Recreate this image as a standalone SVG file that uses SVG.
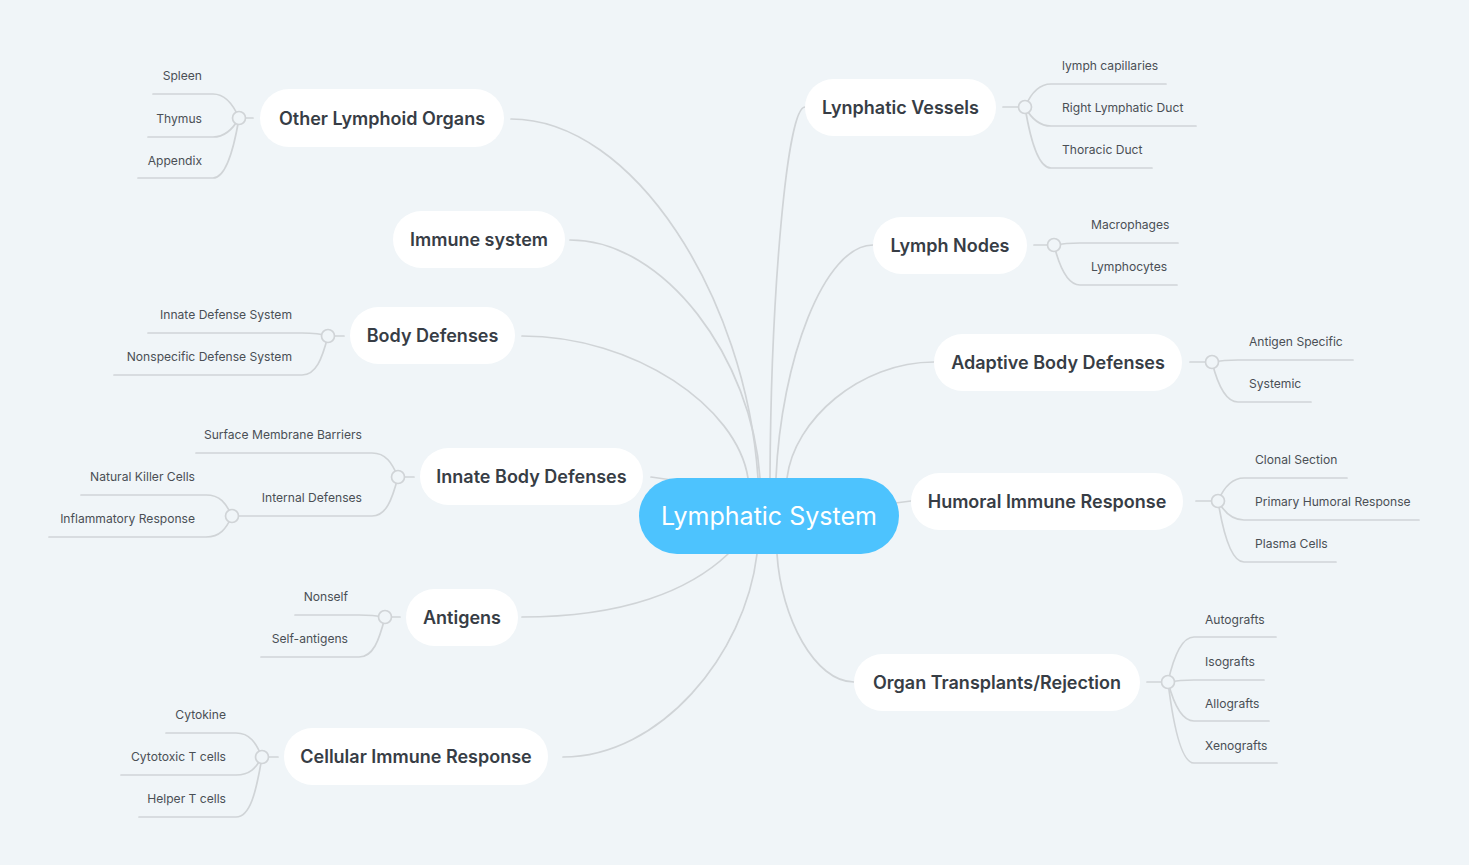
<svg xmlns="http://www.w3.org/2000/svg" width="1469" height="865" viewBox="0 0 1469 865">
<style>
.bg{fill:#F0F5F8}
.ln{fill:none;stroke:#D0D4D7;stroke-width:1.7;stroke-linecap:round}
.jn{fill:#F0F5F8;stroke:#D0D4D7;stroke-width:1.7}
.nd{fill:#FFFFFF}
.nt{font-family:Inter,"Open Sans",sans-serif;font-weight:600;font-size:18px;fill:#373D45;text-anchor:middle}
.lt{font-family:Inter,"Open Sans",sans-serif;font-size:12.1px;fill:#4A4F55}
.ll{text-anchor:end}
.ct{font-family:Inter,"Open Sans",sans-serif;font-size:25px;fill:#FFFFFF;text-anchor:middle}
</style>
<rect class="bg" x="0" y="0" width="1469" height="865"/>
<g id="connectors">
<path class="ln" d="M511 119 C634 119 746 298 758 478"/>
<path class="ln" d="M570 240 C665 240 752 359 760 478"/>
<path class="ln" d="M522 336 C635 336 737 407 748 478"/>
<path class="ln" d="M651 477 L700 484"/>
<path class="ln" d="M522 617 C625 617 690 590 728 554"/>
<path class="ln" d="M563 757 C660 757 745 655 757 554"/>
<path class="ln" d="M805 107 C787 107 771 292 770 478"/>
<path class="ln" d="M873 245 C824 245 781 361 776 478"/>
<path class="ln" d="M934 362 C860 362 794 420 787 478"/>
<path class="ln" d="M911 501 L880 505"/>
<path class="ln" d="M854 682 C815 682 781 618 777 554"/>
<path class="ln" d="M245 118 H253"/>
<path class="ln" d="M334 336 H344"/>
<path class="ln" d="M404 477 H414"/>
<path class="ln" d="M391 617 H400"/>
<path class="ln" d="M268 757 H278"/>
<path class="ln" d="M1003 107 H1019"/>
<path class="ln" d="M1034 245 H1048"/>
<path class="ln" d="M1190 362 H1206"/>
<path class="ln" d="M1196 501 H1212"/>
<path class="ln" d="M1147 682 H1162"/>
<path class="ln" d="M239 118 C233 104 225 94 213 94 H153"/>
<path class="ln" d="M239 118 C233 129 225 137 213 137 H148"/>
<path class="ln" d="M239 118 C233 154 225 178 213 178 H138"/>
<path class="ln" d="M328 336 C322 334 316 333 302 333 H148"/>
<path class="ln" d="M328 336 C322 359 316 375 302 375 H114"/>
<path class="ln" d="M398 477 C392 463 386 453 372 453 H196"/>
<path class="ln" d="M398 477 C392 500 386 516 372 516 H238"/>
<path class="ln" d="M232 516 C226 503 220 495 206 495 H81"/>
<path class="ln" d="M232 516 C226 529 220 537 206 537 H49"/>
<path class="ln" d="M385 617 C379 616 373 615 359 615 H295"/>
<path class="ln" d="M385 617 C379 641 373 657 359 657 H261"/>
<path class="ln" d="M262 757 C256 743 250 733 236 733 H166"/>
<path class="ln" d="M262 757 C256 768 250 775 236 775 H121"/>
<path class="ln" d="M262 757 C256 793 250 817 236 817 H139"/>
<path class="ln" d="M1025 107 C1031 93 1039 84 1051 84 H1166"/>
<path class="ln" d="M1025 107 C1031 118 1039 126 1051 126 H1196"/>
<path class="ln" d="M1025 107 C1031 144 1039 168 1051 168 H1152"/>
<path class="ln" d="M1054 245 C1060 244 1068 243 1080 243 H1178"/>
<path class="ln" d="M1054 245 C1060 269 1068 285 1080 285 H1177"/>
<path class="ln" d="M1212 362 C1218 361 1226 360 1238 360 H1353"/>
<path class="ln" d="M1212 362 C1218 386 1226 402 1238 402 H1311"/>
<path class="ln" d="M1218 501 C1224 487 1232 478 1244 478 H1347"/>
<path class="ln" d="M1218 501 C1224 512 1232 520 1244 520 H1419"/>
<path class="ln" d="M1218 501 C1224 538 1232 562 1244 562 H1336"/>
<path class="ln" d="M1168 682 C1174 655 1182 637 1194 637 H1276"/>
<path class="ln" d="M1168 682 C1174 681 1182 680 1194 680 H1264"/>
<path class="ln" d="M1168 682 C1174 705 1182 721 1194 721 H1269"/>
<path class="ln" d="M1168 682 C1174 731 1182 763 1194 763 H1277"/>
<circle class="jn" cx="239" cy="118" r="6.5"/>
<circle class="jn" cx="328" cy="336" r="6.5"/>
<circle class="jn" cx="398" cy="477" r="6.5"/>
<circle class="jn" cx="232" cy="516" r="6.5"/>
<circle class="jn" cx="385" cy="617" r="6.5"/>
<circle class="jn" cx="262" cy="757" r="6.5"/>
<circle class="jn" cx="1025" cy="107" r="6.5"/>
<circle class="jn" cx="1054" cy="245" r="6.5"/>
<circle class="jn" cx="1212" cy="362" r="6.5"/>
<circle class="jn" cx="1218" cy="501" r="6.5"/>
<circle class="jn" cx="1168" cy="682" r="6.5"/>
</g>
<g id="center">
<rect x="639" y="478" width="260" height="76" rx="38" fill="#4DC3FE"/>
<text class="ct" x="769" y="525">Lymphatic System</text>
</g>
<g id="n-other"><rect class="nd" x="260" y="89" width="244" height="58" rx="29"/><text class="nt" x="382" y="125">Other Lymphoid Organs</text>
<text class="lt ll" x="202" y="80">Spleen</text><text class="lt ll" x="202" y="123">Thymus</text><text class="lt ll" x="202" y="165">Appendix</text></g>
<g id="n-immune"><rect class="nd" x="393" y="211" width="172" height="57" rx="28.5"/><text class="nt" x="479" y="246">Immune system</text></g>
<g id="n-body"><rect class="nd" x="350" y="307" width="165" height="57" rx="28.5"/><text class="nt" x="432.5" y="342">Body Defenses</text>
<text class="lt ll" x="292" y="319">Innate Defense System</text><text class="lt ll" x="292" y="361">Nonspecific Defense System</text></g>
<g id="n-innate"><rect class="nd" x="420" y="448" width="223" height="57" rx="28.5"/><text class="nt" x="531.5" y="483">Innate Body Defenses</text>
<text class="lt ll" x="362" y="439">Surface Membrane Barriers</text><text class="lt ll" x="362" y="502">Internal Defenses</text>
<text class="lt ll" x="195" y="481">Natural Killer Cells</text><text class="lt ll" x="195" y="523">Inflammatory Response</text></g>
<g id="n-antigens"><rect class="nd" x="406" y="589" width="112" height="57" rx="28.5"/><text class="nt" x="462" y="624">Antigens</text>
<text class="lt ll" x="348" y="601">Nonself</text><text class="lt ll" x="348" y="643">Self-antigens</text></g>
<g id="n-cellular"><rect class="nd" x="284" y="728" width="264" height="57" rx="28.5"/><text class="nt" x="416" y="763">Cellular Immune Response</text>
<text class="lt ll" x="226" y="719">Cytokine</text><text class="lt ll" x="226" y="761">Cytotoxic T cells</text><text class="lt ll" x="226" y="803">Helper T cells</text></g>
<g id="n-vessels"><rect class="nd" x="805" y="79" width="191" height="57" rx="28.5"/><text class="nt" x="900.5" y="114">Lynphatic Vessels</text>
<text class="lt" x="1062" y="70">lymph capillaries</text><text class="lt" x="1062" y="112">Right Lymphatic Duct</text><text class="lt" x="1062" y="154">Thoracic Duct</text></g>
<g id="n-nodes"><rect class="nd" x="873" y="217" width="154" height="57" rx="28.5"/><text class="nt" x="950" y="252">Lymph Nodes</text>
<text class="lt" x="1091" y="229">Macrophages</text><text class="lt" x="1091" y="271">Lymphocytes</text></g>
<g id="n-adaptive"><rect class="nd" x="934" y="334" width="248" height="57" rx="28.5"/><text class="nt" x="1058" y="369">Adaptive Body Defenses</text>
<text class="lt" x="1249" y="346">Antigen Specific</text><text class="lt" x="1249" y="388">Systemic</text></g>
<g id="n-humoral"><rect class="nd" x="911" y="473" width="272" height="57" rx="28.5"/><text class="nt" x="1047" y="508">Humoral Immune Response</text>
<text class="lt" x="1255" y="464">Clonal Section</text><text class="lt" x="1255" y="506">Primary Humoral Response</text><text class="lt" x="1255" y="548">Plasma Cells</text></g>
<g id="n-organ"><rect class="nd" x="854" y="654" width="286" height="57" rx="28.5"/><text class="nt" x="997" y="689">Organ Transplants/Rejection</text>
<text class="lt" x="1205" y="624">Autografts</text><text class="lt" x="1205" y="666">Isografts</text><text class="lt" x="1205" y="708">Allografts</text><text class="lt" x="1205" y="750">Xenografts</text></g>
</svg>
